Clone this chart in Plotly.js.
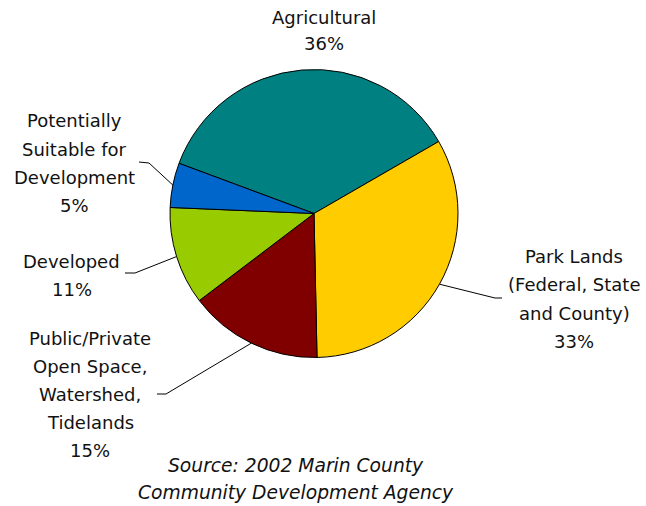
<!DOCTYPE html>
<html>
<head>
<meta charset="utf-8">
<script src="https://cdn.plot.ly/plotly-3.0.1.min.js"></script>
<style>html,body{margin:0;padding:0;background:#fff;}#chart{width:646px;height:506px;}</style>
</head>
<body>
<div id="chart"></div>
<script>
// ---- data ----
var categories = ["Agricultural", "Park Lands (Federal, State and County)", "Public/Private Open Space, Watershed, Tidelands", "Developed", "Potentially Suitable for Development"];
var values = [36, 33, 15, 11, 5];
var colors = ["#008080", "#FFCC00", "#800000", "#99CC00", "#0066CC"];
var labelLines = [
  ["Agricultural", "36%"],
  ["Park Lands", "(Federal, State", "and County)", "33%"],
  ["Public/Private", "Open Space,", "Watershed,", "Tidelands", "15%"],
  ["Developed", "11%"],
  ["Potentially", "Suitable for", "Development", "5%"]
];
var sourceLines = ["Source: 2002 Marin County", "Community Development Agency"];

// ---- layout geometry (pixels) ----
var W = 646, H = 506;
var CX = 314, CY = 213.5, R = 144;
var parkStart = 60; // angle where the second slice starts, clockwise from 12 o'clock
var total = values.reduce(function(a, b){ return a + b; }, 0);
var rotation = parkStart - 360 * values[0] / total;

// label block positions: [centerX, firstLineY, lineStep]
var labelPos = [
  [324, 17, 27],
  [574, 256.5, 28.3],
  [90, 338, 28.2],
  [71.5, 261, 28],
  [74, 121, 28]
];
// leader line: [elbowX, elbowY, endX, endY] (null = no leader)
var leaders = [
  null,
  [495, 298, 502, 298],
  [166, 394, 157, 394],
  [135, 273, 125, 273],
  [149, 163, 139, 162]
];

function px(x){ return x / W; }
function py(y){ return 1 - y / H; }

var annotations = [];
var shapes = [];
var cum = 0;
for (var i = 0; i < values.length; i++) {
  var mid = rotation + 360 * (cum + values[i] / 2) / total;
  cum += values[i];
  var rad = mid * Math.PI / 180;
  var ex = CX + R * Math.sin(rad), ey = CY - R * Math.cos(rad);
  var p = labelPos[i];
  labelLines[i].forEach(function(t, k){
    annotations.push({
      text: t, xref: 'paper', yref: 'paper', x: px(p[0]), y: py(p[1] + k * p[2]),
      xanchor: 'center', yanchor: 'middle', showarrow: false,
      font: {family: 'DejaVu Sans, Verdana, sans-serif', size: 18, color: '#111'}
    });
  });
  var L = leaders[i];
  if (L) {
    shapes.push({
      type: 'path', xref: 'paper', yref: 'paper',
      path: 'M ' + px(ex) + ' ' + py(ey) + ' L ' + px(L[0]) + ' ' + py(L[1]) + ' L ' + px(L[2]) + ' ' + py(L[3]),
      line: {color: '#000', width: 1}
    });
  }
}
sourceLines.forEach(function(t, k){
  annotations.push({
    text: '<i>' + t + '</i>', xref: 'paper', yref: 'paper', x: px(295.5), y: py(465 + k * 27.5),
    xanchor: 'center', yanchor: 'middle', showarrow: false,
    font: {family: 'DejaVu Sans, Verdana, sans-serif', size: 18.7, color: '#111'}
  });
});

var trace = {
  type: 'pie',
  labels: categories,
  values: values,
  sort: false,
  direction: 'clockwise',
  rotation: rotation,
  marker: {colors: colors, line: {color: '#000', width: 1}},
  textinfo: 'none',
  hoverinfo: 'none',
  showlegend: false,
  domain: {x: [px(CX - R), px(CX + R)], y: [py(CY + R), py(CY - R)]}
};

var layout = {
  width: W, height: H,
  margin: {l: 0, r: 0, t: 0, b: 0},
  paper_bgcolor: '#fff',
  showlegend: false,
  annotations: annotations,
  shapes: shapes
};

Plotly.newPlot('chart', [trace], layout, {displayModeBar: false, staticPlot: true});
</script>
</body>
</html>
